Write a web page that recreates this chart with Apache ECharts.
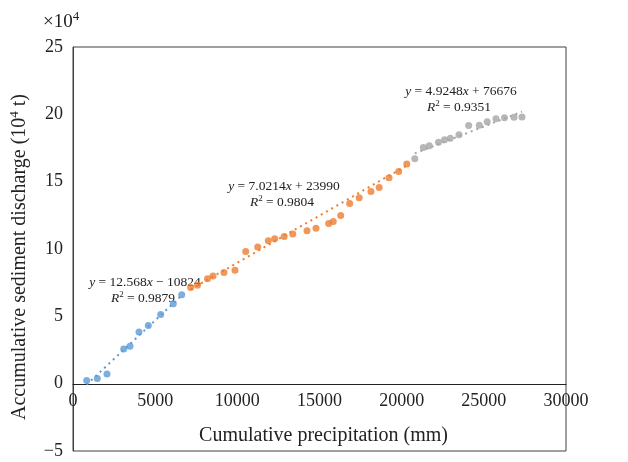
<!DOCTYPE html>
<html>
<head>
<meta charset="utf-8">
<script src="https://cdn.jsdelivr.net/npm/echarts@6/dist/echarts.min.js"></script>
<style>html,body{margin:0;padding:0;background:#fff;}#c{width:628px;height:462px;}</style>
</head>
<body>
<div id="c"></div>
<script>
// Cumulative precipitation (mm), accumulative sediment discharge (10^4 t)
var blueX = [834, 1479, 2069, 3085, 3468, 4016, 4582, 5337, 6103, 6614];
var blueY = [0.24, 0.39, 0.72, 2.57, 2.77, 3.84, 4.32, 5.14, 5.93, 6.60];
var orangeX = [7162, 7576, 8184, 8519, 9188, 9858, 10509, 11239, 11884, 12273, 12851, 13375,
  14239, 14787, 15559, 15839, 16290, 16837, 17416, 18133, 18632, 19229, 19819, 20312];
var orangeY = [7.14, 7.31, 7.79, 7.99, 8.26, 8.42, 9.82, 10.14, 10.61, 10.76, 10.93, 11.11,
  11.35, 11.54, 11.89, 12.04, 12.49, 13.38, 13.80, 14.27, 14.56, 15.30, 15.76, 16.31];
var greyX = [20799, 21316, 21681, 22241, 22606, 22959, 23488, 24078, 24723, 25204, 25740, 26257, 26835, 27322];
var greyY = [16.71, 17.54, 17.67, 17.93, 18.12, 18.23, 18.49, 19.18, 19.19, 19.45, 19.68, 19.75, 19.79, 19.81];
// trendline end points
var blueTrendX = [834, 6614];
var blueTrendY = [-0.07, 6.55];
var orangeTrendX = [7162, 20312];
var orangeTrendY = [7.0, 16.2];
var greyTrendX = [20799, 27322];
var greyTrendY = [17.1, 20.2];
// equations
var blueEq = ['12.568', ' − 10824', '0.9879'];
var orangeEq = ['7.0214', ' + 23990', '0.9804'];
var greyEq = ['4.9248', ' + 76676', '0.9351'];
var xTicks = [0, 5000, 10000, 15000, 20000, 25000, 30000];
var yTicks = [-5, 0, 5, 10, 15, 20, 25];

function zip(a, b) { return a.map(function (v, i) { return [v, b[i]]; }); }
var FONT = '"Liberation Serif", "DejaVu Serif", serif';
var C_BLUE = '#5B9BD5', C_OR = '#ED7D31', C_GR = '#A5A5A5';

var chart = echarts.init(document.getElementById('c'), null, {renderer: 'canvas'});
var EQ = 13.5;
var rich = {
  i: {fontStyle: 'italic', fontFamily: FONT, fontSize: EQ, color: '#222'},
  sup: {fontFamily: FONT, fontSize: 9, color: '#222', padding: [0, 0, 7, 0]}
};
function eqText(cx, cy, e) {
  return [
    {type: 'text', x: cx, y: cy, style: {text: '{i|y} = ' + e[0] + '{i|x}' + e[1], rich: rich,
      fontFamily: FONT, fontSize: EQ, fill: '#222', align: 'center', verticalAlign: 'middle'}},
    {type: 'text', x: cx - 2, y: cy + 16, style: {text: '{i|R}{sup|2} = ' + e[2], rich: rich,
      fontFamily: FONT, fontSize: EQ, fill: '#222', align: 'center', verticalAlign: 'middle'}}
  ];
}
var graphics = [].concat(
  eqText(145, 282, blueEq),
  eqText(284, 186, orangeEq),
  eqText(461, 91, greyEq),
  [{type: 'text', x: 43, y: 22, style: {text: '×10{s|4}', fontFamily: FONT, fontSize: 19, fill: '#222',
    verticalAlign: 'middle', rich: {s: {fontFamily: FONT, fontSize: 13, padding: [0, 0, 11, 0]}}}},
   {type: 'text', x: 20, y: 257, rotation: Math.PI / 2,
    style: {text: 'Accumulative sediment discharge (10{s|4} t)', fontFamily: FONT, fontSize: 20, fill: '#222',
      align: 'center', verticalAlign: 'middle',
      rich: {s: {fontFamily: FONT, fontSize: 13, padding: [0, 0, 11, 0]}}}}]
);

function trend(x, y, c) {
  return {type: 'line', data: zip(x, y), symbol: 'none', silent: true,
    lineStyle: {color: c, width: 2, type: [2, 4]}, z: 1};
}
function pts(x, y, c) {
  return {type: 'scatter', data: zip(x, y), symbolSize: 7, itemStyle: {color: c}, z: 3};
}

chart.setOption({
  animation: false,
  backgroundColor: '#fff',
  grid: {left: 73, right: 62, top: 47, bottom: 11, show: true, borderColor: '#404040', borderWidth: 1,
    containLabel: false, outerBoundsMode: 'none'},
  xAxis: {
    type: 'value', min: xTicks[0], max: xTicks[xTicks.length - 1], interval: 5000,
    position: 'bottom', offset: -67,
    axisLine: {onZero: false, lineStyle: {color: '#222', width: 1}},
    axisTick: {show: false}, splitLine: {show: false},
    axisLabel: {color: '#222', fontFamily: FONT, fontSize: 18, margin: 8,
      formatter: function (v) { return String(v); }},
    name: 'Cumulative precipitation (mm)', nameLocation: 'middle', nameGap: 42,
    nameTextStyle: {color: '#222', fontFamily: FONT, fontSize: 20, padding: [0, 0, 0, 8]}
  },
  yAxis: {
    type: 'value', min: yTicks[0], max: yTicks[yTicks.length - 1], interval: 5,
    axisLine: {show: true, lineStyle: {color: '#404040'}},
    axisTick: {show: false}, splitLine: {show: false},
    axisLabel: {color: '#222', fontFamily: FONT, fontSize: 18, margin: 10,
      formatter: function (v) { return v < 0 ? '−' + Math.abs(v) : String(v); }}
  },
  graphic: graphics,
  series: [
    trend(blueTrendX, blueTrendY, C_BLUE),
    trend(orangeTrendX, orangeTrendY, C_OR),
    trend(greyTrendX, greyTrendY, C_GR),
    pts(blueX, blueY, C_BLUE),
    pts(orangeX, orangeY, C_OR),
    pts(greyX, greyY, C_GR)
  ]
});
</script>
</body>
</html>
